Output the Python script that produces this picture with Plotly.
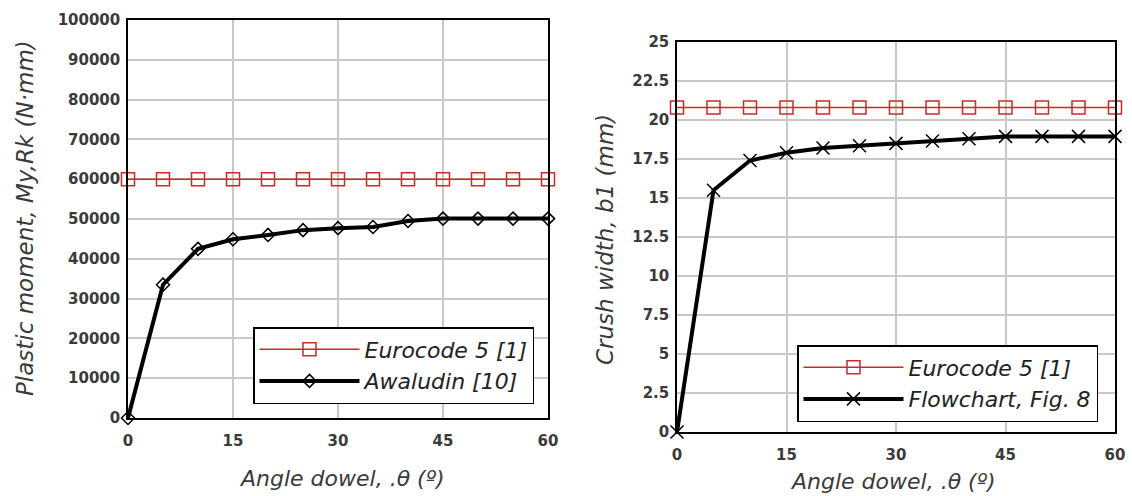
import plotly.graph_objects as go

angles = [0, 5, 10, 15, 20, 25, 30, 35, 40, 45, 50, 55, 60]
eurocode_moment = [60000] * 13
awaludin_moment = [0, 33500, 42500, 44900, 46000, 47200, 47700, 48000, 49500, 50100, 50100, 50100, 50100]
eurocode_crush = [20.8] * 13
flowchart_crush = [0, 15.5, 17.4, 17.9, 18.2, 18.35, 18.5, 18.65, 18.8, 18.95, 18.95, 18.95, 18.95]

x_ticks = [0, 15, 30, 45, 60]
left_y_ticks = list(range(0, 100001, 10000))
right_y_ticks = [0, 2.5, 5, 7.5, 10, 12.5, 15, 17.5, 20, 22.5, 25]
right_y_labels = ["0", "2.5", "5", "7.5", "10", "12.5", "15", "17.5", "20", "22.5", "25"]

W, H = 1132, 496
RED = "#cc2a2a"
tickfont = dict(family="DejaVu Sans", size=15, color="#3a3a3a", weight="bold")
titlefont = dict(family="DejaVu Sans", size=22, color="#3a3a3a")
ytitlefont = dict(family="DejaVu Sans", size=23, color="#3a3a3a")
legfont = dict(family="DejaVu Sans", size=22, color="#222222")

fig = go.Figure()
fig.add_trace(go.Scatter(x=angles, y=eurocode_moment, mode="lines+markers", name="<i>Eurocode 5 [1]</i>",
                         line=dict(color=RED, width=1.5),
                         marker=dict(symbol="square-open", size=13, color=RED, line=dict(width=1.5)),
                         xaxis="x", yaxis="y", legend="legend", cliponaxis=False))
fig.add_trace(go.Scatter(x=angles, y=awaludin_moment, mode="lines+markers", name="<i>Awaludin [10]</i>",
                         line=dict(color="black", width=4),
                         marker=dict(symbol="diamond-open", size=10, color="black", line=dict(width=1.5)),
                         xaxis="x", yaxis="y", legend="legend", cliponaxis=False))
fig.add_trace(go.Scatter(x=angles, y=eurocode_crush, mode="lines+markers", name="<i>Eurocode 5 [1]</i>",
                         line=dict(color=RED, width=1.5),
                         marker=dict(symbol="square-open", size=13, color=RED, line=dict(width=1.5)),
                         xaxis="x2", yaxis="y2", legend="legend2", cliponaxis=False))
fig.add_trace(go.Scatter(x=angles, y=flowchart_crush, mode="lines+markers", name="<i>Flowchart, Fig. 8</i>",
                         line=dict(color="black", width=4),
                         marker=dict(symbol="x-thin-open", size=13, color="black", line=dict(width=1.5)),
                         xaxis="x2", yaxis="y2", legend="legend2", cliponaxis=False))

axcommon = dict(showgrid=True, gridcolor="#c8c8c8", gridwidth=1.5, showline=True, linecolor="black",
                linewidth=1.5, mirror=True, zeroline=False, ticks="", tickfont=tickfont, automargin=False)

fig.update_layout(
    width=W, height=H, margin=dict(l=0, r=0, t=0, b=0, autoexpand=False),
    paper_bgcolor="white", plot_bgcolor="white", showlegend=True,
    xaxis=dict(domain=[128 / W, 548 / W], range=[0, 60], tickvals=x_ticks, anchor="y",
               ticklabelstandoff=8, **axcommon),
    yaxis=dict(domain=[1 - 418 / H, 1 - 20 / H], range=[0, 100000], tickvals=left_y_ticks,
               ticktext=[str(v) for v in left_y_ticks], anchor="x", ticklabelstandoff=3, **axcommon),
    xaxis2=dict(domain=[677 / W, 1115 / W], range=[0, 60], tickvals=x_ticks, anchor="y2",
                ticklabelstandoff=8, **axcommon),
    yaxis2=dict(domain=[1 - 432 / H, 1 - 42 / H], range=[0, 25], tickvals=right_y_ticks,
                ticktext=right_y_labels, anchor="x2", ticklabelstandoff=3, **axcommon),
    legend=dict(x=534 / W, y=1 - 327 / H, xanchor="right", yanchor="top", bgcolor="white",
                bordercolor="black", borderwidth=1.5, font=legfont, tracegroupgap=0, itemwidth=100),
    legend2=dict(x=1098 / W, y=1 - 345 / H, xanchor="right", yanchor="top", bgcolor="white",
                 bordercolor="black", borderwidth=1.5, font=legfont, tracegroupgap=0, itemwidth=100),
)

annots = [
    dict(text="<i>Plastic moment, My,Rk (N·mm)</i>", x=25 / W, y=1 - 218 / H, textangle=-90, font=ytitlefont),
    dict(text="<i>Angle dowel, .θ (º)</i>", x=342 / W, y=1 - 478 / H, textangle=0, font=titlefont),
    dict(text="<i>Crush width, b1 (mm)</i>", x=605 / W, y=1 - 240 / H, textangle=-90, font=ytitlefont),
    dict(text="<i>Angle dowel, .θ (º)</i>", x=893 / W, y=1 - 481 / H, textangle=0, font=titlefont),
]
for a in annots:
    fig.add_annotation(xref="paper", yref="paper", showarrow=False,
                       xanchor="center", yanchor="middle", **a)

fig.write_html("out.html", config={"displayModeBar": False},
               post_script="document.body.style.margin='0';document.body.style.overflow='hidden';")
